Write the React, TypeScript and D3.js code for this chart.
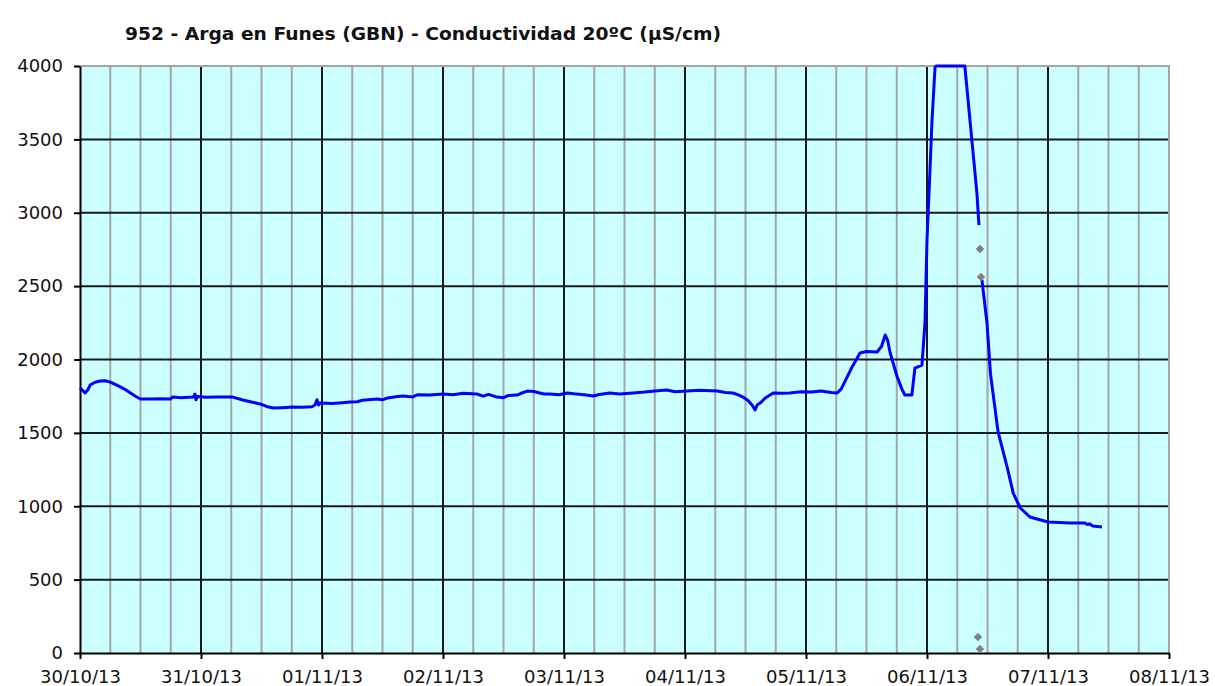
import React, { useEffect, useRef } from 'react';
import * as d3 from 'd3';

const title = '952 - Arga en Funes (GBN) - Conductividad 20ºC (µS/cm)';
const startDate = Date.UTC(2013, 9, 30);
const endDate = Date.UTC(2013, 10, 8);
const yTicks = [0, 500, 1000, 1500, 2000, 2500, 3000, 3500, 4000];

// hours since 30/10/13 00:00, null value = gap in the record
const lineHours = [
  0, 0.5, 1, 1.5, 2, 3, 4, 5, 6, 7, 8, 9, 10, 11, 12, 14, 16, 17.9, 18.4, 20,
  22.5, 22.8, 23, 23.3, 25, 27, 30.3, 32.3, 34, 35.7, 37, 38.3, 40, 42.2, 44, 46,
  46.6, 47, 47.3, 47.6, 50, 52, 53.6, 55, 56, 58.9, 60, 61, 63, 64.1, 66, 67,
  69.4, 72, 74, 76, 78.7, 80, 81, 82.7, 84, 85, 86.7, 87.5, 88.7, 90, 92, 93.2,
  95, 96.6, 98, 100, 101.8, 103, 105.1, 107, 109.7, 112, 114, 116.4, 118, 120.4,
  123, 126.4, 128, 129.5, 130.5, 131.5, 132.5, 133.3, 133.9, 134.3, 134.9, 136,
  137.5, 139, 140.8, 143, 145, 147, 149, 150.2, 151, 152, 153, 154, 154.7, 156,
  158.1, 159, 159.7, 160.2, 160.7, 161.5, 162.1, 163, 163.6, 165, 165.6, 167,
  167.6, 168, 168.4, 169, 169.6, 169.8, 175.5, 175.9, 176.9, 177.9, 178.3,
  178.6, 178.9, 179.9, 180.6, 182.1, 183.9, 185.1, 186.5, 188.4, 192,
  196.4, 199.3, 199.8, 200.2, 200.9, 202.7,
];
const lineValues: (number | null)[] = [
  1806, 1790, 1772, 1790, 1826, 1845, 1853, 1855, 1846, 1830, 1813, 1795, 1772, 1750, 1731, 1731, 1732, 1731, 1744, 1740,
  1745, 1765, 1725, 1748, 1742, 1745, 1744, 1724, 1710, 1697, 1680, 1669, 1672, 1676, 1675, 1678,
  1690, 1726, 1690, 1703, 1700, 1706, 1710, 1712, 1722, 1731, 1725, 1738, 1748, 1751, 1745, 1760,
  1758, 1765, 1760, 1770, 1765, 1750, 1762, 1744, 1740, 1755, 1758, 1770, 1785, 1782, 1765, 1765,
  1760, 1772, 1766, 1760, 1751, 1762, 1772, 1765, 1772, 1778, 1785, 1792, 1780, 1785,
  1790, 1785, 1775, 1772, 1760, 1744, 1720, 1690, 1656, 1690, 1703, 1740,
  1772, 1770, 1772, 1780, 1778, 1785, 1775, 1772, 1800, 1870, 1940, 2000, 2044, 2055,
  2051, 2090, 2167, 2130, 2044, 1950, 1881, 1800, 1758, 1758, 1942, 1962,
  2249, 2814, 3134, 3632, 3993, 4000, 4000, 3857, 3495, 3134, 2916,
  null, 2542, 2249, 1900, 1506, 1267, 1090, 988, 927, 893,
  886, 886, 875, 880, 865, 859,
];

// flagged (grey) samples
const flagHours = [178.5, 178.7, 178.1, 178.5];
const flagValues = [2753, 2562, 109, 27];

const W = 1215;
const H = 686;
const margin = { top: 66, right: 46, bottom: 33, left: 80 };
const font = '"DejaVu Sans", Verdana, sans-serif';

const App: React.FC = () => {
  const svgRef = useRef<SVGSVGElement>(null);

  useEffect(() => {
    document.body.style.margin = '0';
    if (!svgRef.current) return;
    const svg = d3.select(svgRef.current);
    svg.selectAll('*').remove();

    const x = d3.scaleUtc()
      .domain([new Date(startDate), new Date(endDate)])
      .range([margin.left, W - margin.right]);
    const y = d3.scaleLinear()
      .domain([0, 4000])
      .range([H - margin.bottom, margin.top]);

    const left = margin.left;
    const right = W - margin.right;
    const top = margin.top;
    const bottom = H - margin.bottom;

    svg.append('rect').attr('width', W).attr('height', H).attr('fill', '#fff');
    svg.append('rect')
      .attr('x', left).attr('y', top)
      .attr('width', right - left).attr('height', bottom - top)
      .attr('fill', '#CCFFFF');

    // minor vertical grid (6h)
    const minor = d3.utcHour.every(6)!.range(new Date(startDate), new Date(endDate))
      .filter(d => d.getUTCHours() !== 0);
    svg.append('g').selectAll('line').data(minor).enter().append('line')
      .attr('x1', d => x(d)).attr('x2', d => x(d))
      .attr('y1', top).attr('y2', bottom)
      .attr('stroke', '#A6A6A6').attr('stroke-width', 2);

    // major vertical grid (days)
    const days = d3.utcDay.range(new Date(startDate), new Date(endDate + 1));
    svg.append('g').selectAll('line').data(days.slice(1, -1)).enter().append('line')
      .attr('x1', d => x(d)).attr('x2', d => x(d))
      .attr('y1', top).attr('y2', bottom)
      .attr('stroke', '#1a1a1a').attr('stroke-width', 2);

    // horizontal grid
    svg.append('g').selectAll('line').data(yTicks.slice(1, -1)).enter().append('line')
      .attr('x1', left).attr('x2', right)
      .attr('y1', d => y(d)).attr('y2', d => y(d))
      .attr('stroke', '#1a1a1a').attr('stroke-width', 2);

    // plot border top/right
    svg.append('path')
      .attr('d', `M${left},${top}H${right}V${bottom}`)
      .attr('fill', 'none').attr('stroke', '#A6A6A6').attr('stroke-width', 2);

    // axes
    const yAxis = svg.append('g')
      .attr('transform', `translate(${left},0)`)
      .call(d3.axisLeft(y).tickValues(yTicks).tickSize(6).tickSizeOuter(0).tickPadding(11)
        .tickFormat(d3.format('d')));
    const xAxis = svg.append('g')
      .attr('transform', `translate(0,${bottom})`)
      .call(d3.axisBottom(x).tickValues(days).tickSize(6).tickSizeOuter(0).tickPadding(11)
        .tickFormat(d => d3.utcFormat('%d/%m/%y')(d as Date)));
    [yAxis, xAxis].forEach(a => {
      a.select('.domain').attr('stroke', '#000').attr('stroke-width', 2);
      a.selectAll('.tick line').attr('stroke', '#000').attr('stroke-width', 2);
      a.selectAll('text')
        .attr('fill', '#111')
        .style('font-family', font)
        .style('font-size', '18px');
    });

    // series
    const pts = lineHours.map((h, i) => ({ t: new Date(startDate + h * 3600e3), v: lineValues[i] }));
    const line = d3.line<{ t: Date; v: number | null }>()
      .defined(d => d.v !== null)
      .x(d => x(d.t))
      .y(d => y(d.v as number));
    svg.append('path')
      .datum(pts)
      .attr('d', line)
      .attr('fill', 'none')
      .attr('stroke', '#0000FF')
      .attr('stroke-width', 3)
      .attr('stroke-linejoin', 'round');

    const flags = flagHours.map((h, i) => ({ t: new Date(startDate + h * 3600e3), v: flagValues[i] }));
    svg.append('g').selectAll('path').data(flags).enter().append('path')
      .attr('d', d3.symbol(d3.symbolSquare, 36)())
      .attr('transform', d => `translate(${x(d.t)},${y(d.v)}) rotate(45)`)
      .attr('fill', '#808080');

    svg.append('text')
      .attr('x', 125)
      .attr('y', 40)
      .attr('textLength', 596)
      .attr('lengthAdjust', 'spacingAndGlyphs')
      .style('font-family', font)
      .style('font-size', '17px')
      .style('font-weight', 'bold')
      .attr('fill', '#111')
      .text(title);
  }, []);

  return <svg ref={svgRef} width={W} height={H} style={{ display: 'block' }} />;
};

export default App;
